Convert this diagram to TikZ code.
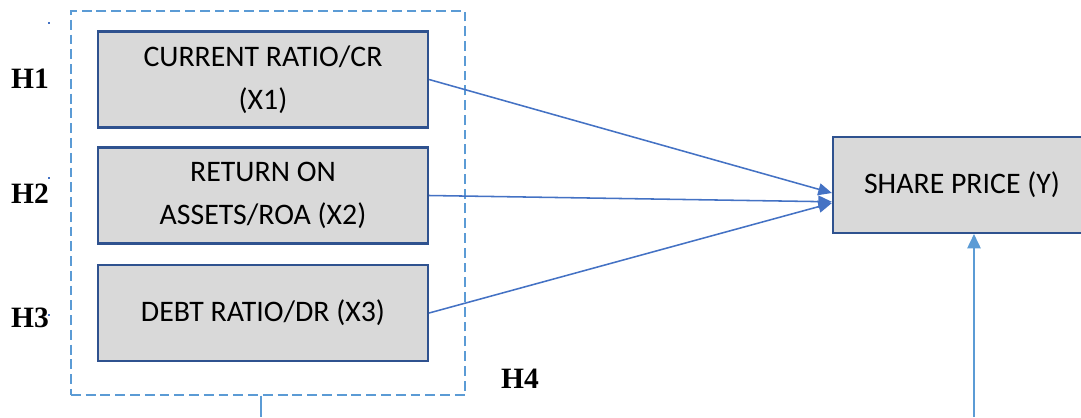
\documentclass[tikz,border=0pt]{standalone}
\usepackage{fontspec}
\setmainfont{Carlito}
\newfontfamily\timesfont{Liberation Serif}
\usepackage{tikz}
\usetikzlibrary{arrows.meta, positioning}
\definecolor{boxfill}{RGB}{217,217,217}
\definecolor{boxline}{RGB}{47,82,143}
\definecolor{arrowblue}{RGB}{68,114,196}
\definecolor{lightblue}{RGB}{91,155,213}
\tikzset{
  varbox/.style={rectangle, draw=boxline, fill=boxfill,
    minimum width=8.25cm, minimum height=2.4cm, align=center,
    font=\fontsize{21.2}{30.5}\selectfont, inner sep=0pt, line width=1.5pt},
  hlabel/.style={font=\timesfont\bfseries\fontsize{21}{25}\selectfont, inner sep=0pt},
  groupbox/.style={rectangle, draw=lightblue, line width=0.8pt,
    dash pattern=on 7pt off 3.5pt, minimum width=9.85cm, minimum height=9.6cm},
  tinysq/.style={rectangle, fill=arrowblue, minimum size=2pt, inner sep=0pt},
  arrow/.style={-{Triangle[length=0.34cm, width=0.3cm]}, line width=1.1pt, color=arrowblue},
  lightarrow/.style={-{Triangle[length=0.36cm, width=0.34cm]}, line width=0.8pt, color=lightblue},
  line/.style={line width=0.8pt, color=lightblue}
}

\begin{document}
\begin{tikzpicture}[x=0.025cm, y=-0.025cm]
  \useasboundingbox (0,0) rectangle (1081,417);

  % Group of independent variables
  \node[groupbox] (group) at (268,203) {};
  \coordinate (gfoot) at (261,417);
  \draw[line] (group.south -| gfoot) -- (gfoot);

  % Independent variables
  \node[varbox] (x1) at (263,79.5) {CURRENT RATIO/CR\\(X1)};
  \node[varbox] (x2) at (263,195.5) {RETURN ON\\ASSETS/ROA (X2)};
  \node[varbox] (x3) at (263,313) {DEBT RATIO/DR (X3)};

  % Dependent variable
  \node[varbox, minimum width=6.45cm] (y) at (962,185) {SHARE PRICE (Y)};

  % Hypotheses
  \node[hlabel] (h1) at (30,79) {H1};
  \node[hlabel] (h2) at (30,194) {H2};
  \node[hlabel] (h3) at (30,318) {H3};
  \node[hlabel] (h4) at (520,379) {H4};

  % Small marks
  \node[tinysq] (d1) at (49,23) {};
  \node[tinysq] (d2) at (49,178) {};
  \node[tinysq] (d3) at (49,315) {};

  % Partial effects
  \draw[arrow] (x1.east) -- ([yshift=-0.2cm]y.west);
  \draw[arrow] (x2.east) -- ([yshift=-0.42cm]y.west);
  \draw[arrow] (x3.east) -- ([yshift=-0.45cm]y.west);

  % Joint effect
  \coordinate (yfoot) at (974,417);
  \draw[lightarrow] (yfoot) -- (yfoot |- y.south);
\end{tikzpicture}
\end{document}
